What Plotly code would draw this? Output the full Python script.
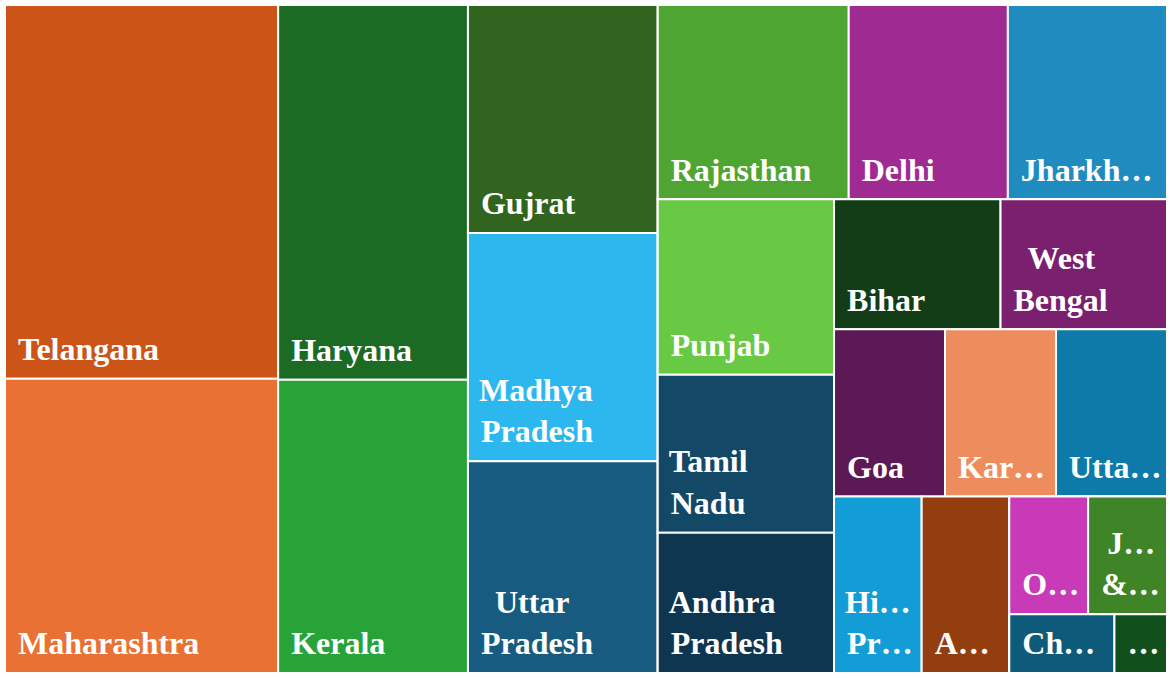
import plotly.graph_objects as go

states = [
    'Telangana', 'Maharashtra', 'Haryana', 'Kerala', 'Gujrat', 'Madhya Pradesh',
    'Uttar Pradesh', 'Rajasthan', 'Delhi', 'Jharkhand', 'Punjab', 'Tamil Nadu',
    'Andhra Pradesh', 'Bihar', 'West Bengal', 'Goa', 'Karnataka', 'Uttarakhand',
    'Himachal Pradesh', 'Assam', 'Odisha', 'Jammu & Kashmir', 'Chhattisgarh', 'Other',
]
values = [33, 26, 23, 18, 14, 14, 13, 12, 10, 10, 10, 9, 8, 7, 7, 6, 6, 6, 5, 5, 3, 3, 2, 1]
# labels as shown on the tiles (truncated where the tile is too small);
# extra leading spaces centre a short first line over a longer second one
shown = [
    'Telangana', 'Maharashtra', 'Haryana', 'Kerala', 'Gujrat', 'Madhya<br>Pradesh',
    '\u00a0\u00a0Uttar<br>Pradesh', 'Rajasthan', 'Delhi', 'Jharkh…', 'Punjab', 'Tamil<br>Nadu',
    'Andhra<br>Pradesh', 'Bihar', '\u00a0\u00a0West<br>Bengal', 'Goa', 'Kar…', 'Utta…',
    'Hi…<br>Pr…', 'A…', 'O…', '\u00a0J…<br>&…', 'Ch…', '…',
]
colors = [
    '#CB5416', '#E87133', '#1B6B25', '#27A338', '#30641F', '#2DB7EF',
    '#175C80', '#4EA532', '#9F2A91', '#1F8BBF', '#68C945', '#134967',
    '#0F3650', '#123D17', '#7B1F6F', '#5B1A55', '#ED8D5E', '#0D7AAA',
    '#129DD6', '#943E10', '#C93AB8', '#3F8426', '#0D5A7B', '#11501D',
]
# layout groups that reproduce the reference's squarified rows/columns
state_group = [
    'c1', 'c1', 'c2', 'c2', 'c3', 'c3', 'c3', 'r_top', 'r_top', 'r_top',
    'r2_col', 'r2_col', 'r2_col', 'r3_a', 'r3_a', 'r3_b', 'r3_b', 'r3_b',
    'r4', 'r4', 'r5_a', 'r5_a', 'r5_b', 'r5_b',
]
group_ids = ['c1', 'c2', 'c3', 'r', 'r_top', 'r2', 'r2_col', 'r3', 'r3_a', 'r3_b', 'r4']
group_parents = ['', '', '', '', 'r', 'r', 'r2', 'r2', 'r3', 'r3', 'r3']
late_ids = ['r5', 'r5_a', 'r5_b']
late_parents = ['r4', 'r5', 'r5']


def pad_label(s):
    # a leading space on each line gives left padding; on the last line the
    # space is a large lowered one so the text box gains room at the bottom
    lines = s.split('<br>')
    spacer = '<sub><span style="font-size:40px">\u00a0</span></sub>'
    out = ['\u00a0' + ln for ln in lines[:-1]] + [spacer + lines[-1]]
    return '<b>' + '<br>'.join(out) + '</b>'


ids = group_ids + states + late_ids
parents = group_parents + state_group + late_parents
n_g, n_l = len(group_ids), len(late_ids)
vals = [0] * n_g + values + [0] * n_l
texts = [''] * n_g + [pad_label(s) for s in shown] + [''] * n_l
cols = ['white'] * n_g + colors + ['white'] * n_l

fig = go.Figure(go.Treemap(
    ids=ids,
    labels=ids,
    parents=parents,
    values=vals,
    branchvalues='remainder',
    text=texts,
    texttemplate='%{text}',
    textposition='bottom left',
    textfont=dict(family='Liberation Serif', size=32, color='white'),
    marker=dict(colors=cols, line=dict(color='white', width=2),
                pad=dict(t=0, l=0, r=0, b=0)),
    tiling=dict(pad=0, packing='slice-dice'),
    pathbar=dict(visible=False),
    domain=dict(x=[0, 1], y=[0, 1]),
    hoverinfo='none',
    sort=False,
))

fig.update_layout(
    width=1170,
    height=678,
    margin=dict(l=5, r=3, t=5, b=5),
    paper_bgcolor='white',
)

# drop the default page margin so the figure sits flush in the window
fig.write_html('out.html', config={'displayModeBar': False},
               post_script="document.body.style.margin = '0';")
